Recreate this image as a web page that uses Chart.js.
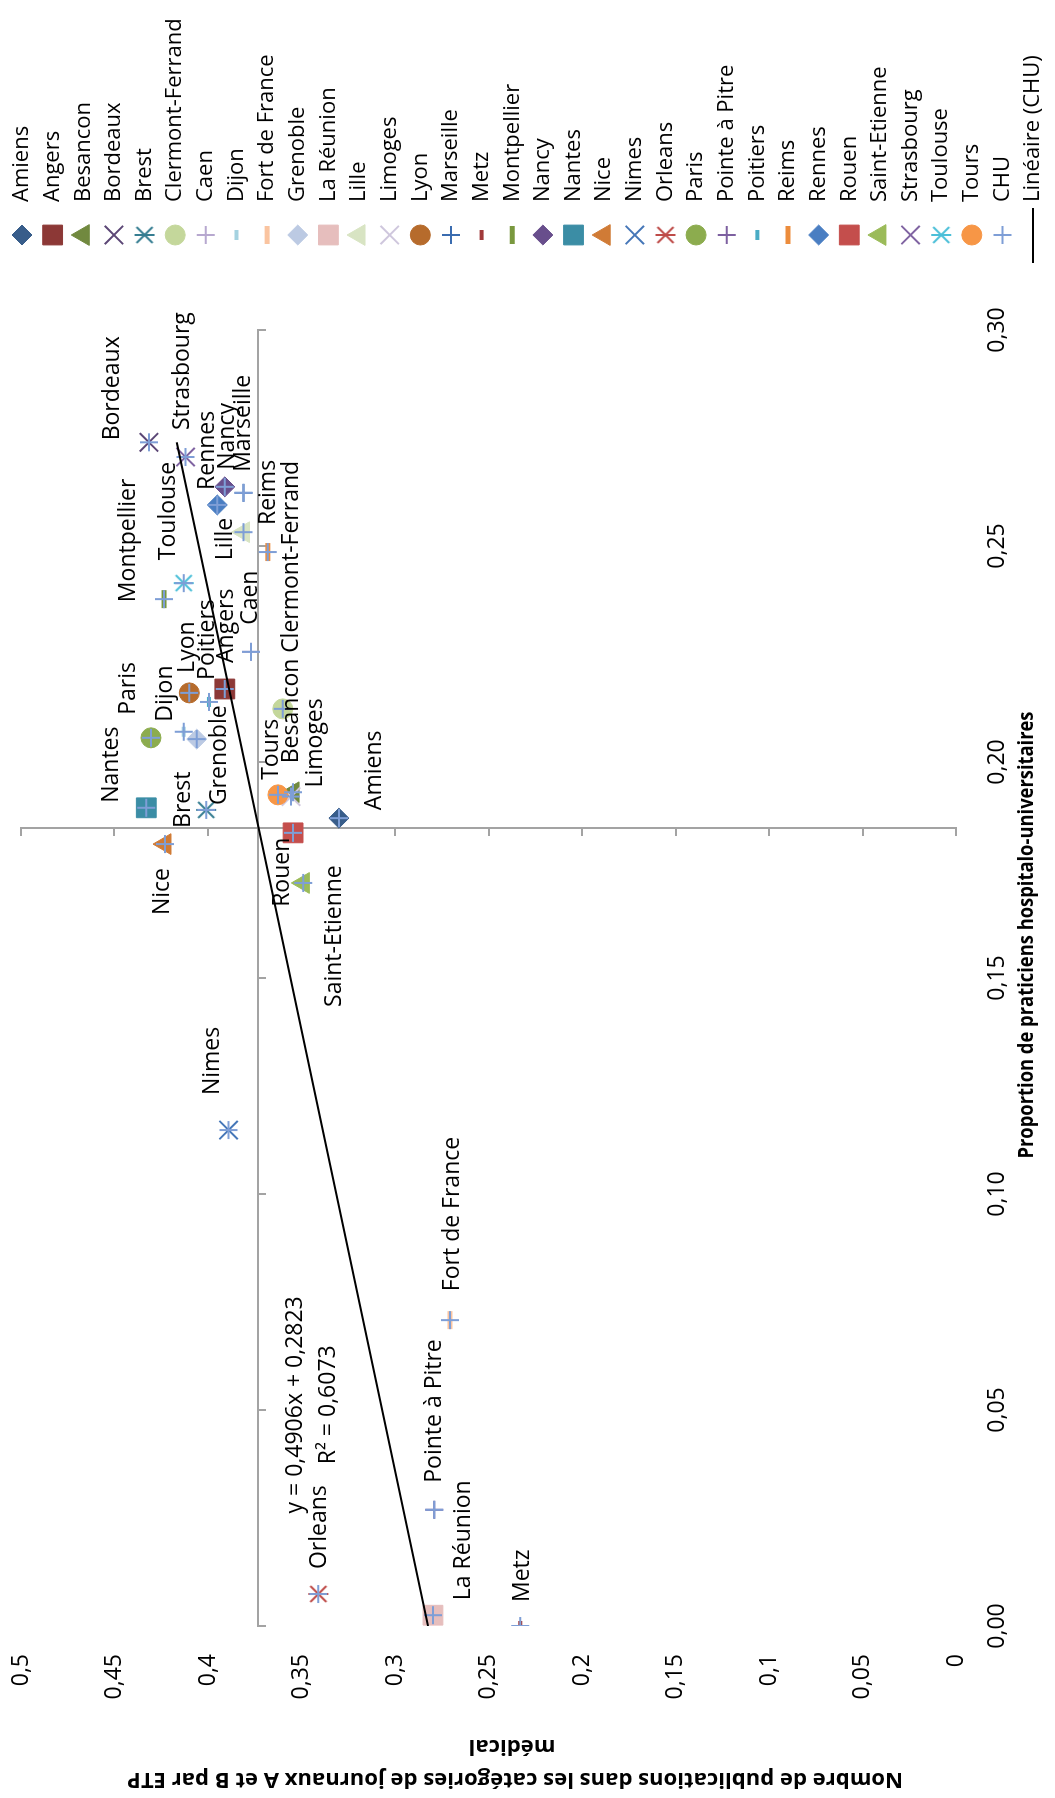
<!DOCTYPE html>
<html>
<head>
<meta charset="utf-8">
<script src="https://cdn.jsdelivr.net/npm/chart.js@4.4.0/dist/chart.umd.min.js"></script>
<style>
    html, body { margin: 0; padding: 0; background: #fff; }
    body { width: 1055px; height: 1798px; overflow: hidden; position: relative; }
    /* the chart is drawn upright and then turned a quarter turn to the left */
    #wrap {
        position: absolute; left: 0; top: 0;
        width: 1798px; height: 1055px;
        transform-origin: 0 0;
        transform: translate(0, 1798px) rotate(-90deg);
    }
</style>
</head>
<body>
<div id="wrap"><canvas id="chart" width="1798" height="1055"></canvas></div>
<script>
// --- data ---
const cities = ['Amiens', 'Angers', 'Besancon', 'Bordeaux', 'Brest', 'Clermont-Ferrand', 'Caen', 'Dijon',
    'Fort de France', 'Grenoble', 'La Réunion', 'Lille', 'Limoges', 'Lyon', 'Marseille', 'Metz', 'Montpellier',
    'Nancy', 'Nantes', 'Nice', 'Nimes', 'Orleans', 'Paris', 'Pointe à Pitre', 'Poitiers', 'Reims', 'Rennes',
    'Rouen', 'Saint-Etienne', 'Strasbourg', 'Toulouse', 'Tours'];
const xValues = [0.187, 0.2169, 0.193, 0.274, 0.1889, 0.2123, 0.2255, 0.207,
    0.0708, 0.2053, 0.0025, 0.2532, 0.192, 0.216, 0.2623, 0.0, 0.2377,
    0.2637, 0.1894, 0.181, 0.1148, 0.0074, 0.2056, 0.0269, 0.2139, 0.2486, 0.2595,
    0.1836, 0.172, 0.2706, 0.2414, 0.1924];
const yValues = [0.330, 0.391, 0.3545, 0.4316, 0.401, 0.360, 0.377, 0.413,
    0.2706, 0.406, 0.2797, 0.381, 0.3556, 0.410, 0.381, 0.233, 0.4235,
    0.391, 0.433, 0.423, 0.389, 0.341, 0.4305, 0.279, 0.3995, 0.368, 0.395,
    0.3545, 0.349, 0.412, 0.413, 0.3626];
const trendX = [0.0, 0.274];
const trendY = [0.2823, 0.4167];
const trendEquation = 'y = 0,4906x + 0,2823';
const trendR2 = 'R² = 0,6073';
const xTickLabels = ['0,00', '0,05', '0,10', '0,15', '0,20', '0,25', '0,30'];
const yTickLabels = ['0', '0,05', '0,1', '0,15', '0,2', '0,25', '0,3', '0,35', '0,4', '0,45', '0,5'];
const xCross = 0.1847;   // where the vertical axis crosses
const yCross = 0.3735;   // where the horizontal axis crosses

const xTitle = 'Proportion de praticiens hospitalo-universitaires';
const yTitle = ['Nombre de publications dans les catégories de journaux A et B par ETP', 'médical'];

// --- marker styles, one per city (shape, colour) ---
const markerStyles = [
    ['diamond', '#385d8a'], ['square', '#8c3836'], ['triangle', '#71893f'], ['x', '#5c4776'],
    ['star', '#357d91'], ['circle', '#c4d79b'], ['plus', '#b7a8cf'], ['dash', '#a5d2e0'],
    ['bar', '#fac4a0'], ['diamond', '#bccae3'], ['square', '#e6bebd'], ['triangle', '#d8e4c3'],
    ['x', '#cfc7dd'], ['circle', '#b66b2c'], ['plus', '#3a6cb0'], ['dash', '#a0393a'],
    ['bar', '#79983e'], ['diamond', '#684e8c'], ['square', '#3b8da5'], ['triangle', '#d07b36'],
    ['x', '#4677b8'], ['star', '#be4b48'], ['circle', '#8cac4e'], ['plus', '#7d60a0'],
    ['dash', '#4aacc5'], ['bar', '#ec8c3c'], ['diamond', '#4a7ec2'], ['square', '#c44e4c'],
    ['triangle', '#9bbb59'], ['x', '#8064a2'], ['star', '#4bbfd8'], ['circle', '#f79646']
];

// label offsets from the point, in pixels (text left, text middle)
const labelOffsets = {
    'Amiens': [8, 36], 'Angers': [26, 2], 'Besancon': [29, -2], 'Bordeaux': [2, -36],
    'Brest': [-18, -23], 'Clermont-Ferrand': [56, 9], 'Caen': [27, -1], 'Dijon': [10, -18],
    'Fort de France': [29, 2], 'Grenoble': [-66, 23], 'La Réunion': [15, 30], 'Lille': [-28, -18],
    'Limoges': [9, 24], 'Lyon': [20, -2], 'Marseille': [21, 0], 'Metz': [24, 2],
    'Montpellier': [-3, -36], 'Nancy': [17, 3], 'Nantes': [5, -35], 'Nice': [-71, -3],
    'Nimes': [35, -16], 'Orleans': [25, 1], 'Paris': [23, -23], 'Pointe à Pitre': [27, 0],
    'Poitiers': [22, -1], 'Reims': [27, 1], 'Rennes': [15, -10], 'Rouen': [-74, -11],
    'Saint-Etienne': [-124, 31], 'Strasbourg': [27, -3], 'Toulouse': [23, -15], 'Tours': [15, -6]
};

const FONT = '"Open Sans", "DejaVu Sans", sans-serif';
const axisGrey = '#a3a3a3';

function asteriskMarker(color) {
    const c = document.createElement('canvas');
    c.width = 24; c.height = 24;
    const g = c.getContext('2d');
    g.strokeStyle = color;
    g.lineWidth = 2;
    g.beginPath();
    g.moveTo(4, 4); g.lineTo(20, 20);
    g.moveTo(20, 4); g.lineTo(4, 20);
    g.moveTo(12, 2); g.lineTo(12, 22);
    g.stroke();
    return c;
}

function markerOptions(shape, color) {
    const filled = { pointBackgroundColor: color, pointBorderColor: color, pointBorderWidth: 1 };
    switch (shape) {
        case 'diamond': return { pointStyle: 'rectRot', pointRadius: 10, ...filled };
        case 'square': return { pointStyle: 'rect', pointRadius: 14, ...filled };
        case 'triangle': return { pointStyle: 'triangle', pointRadius: 12, ...filled };
        case 'circle': return { pointStyle: 'circle', pointRadius: 10, ...filled };
        case 'x': return { pointStyle: 'crossRot', pointRadius: 13, pointBackgroundColor: color, pointBorderColor: color, pointBorderWidth: 2 };
        case 'plus': return { pointStyle: 'cross', pointRadius: 9, pointBackgroundColor: color, pointBorderColor: color, pointBorderWidth: 2 };
        case 'star': return { pointStyle: asteriskMarker(color), pointRadius: 12, pointBackgroundColor: color, pointBorderColor: color, pointBorderWidth: 0 };
        case 'dash': return { pointStyle: 'line', pointRadius: 5, pointBackgroundColor: color, pointBorderColor: color, pointBorderWidth: 4 };
        case 'bar': return { pointStyle: 'line', pointRadius: 9, pointBackgroundColor: color, pointBorderColor: color, pointBorderWidth: 5 };
    }
}

const datasets = cities.map((name, i) => ({
    label: name,
    data: [{ x: xValues[i], y: yValues[i] }],
    order: 100 - i,
    ...markerOptions(markerStyles[i][0], markerStyles[i][1])
}));

datasets.push({
    label: 'CHU',
    data: cities.map((name, i) => ({ x: xValues[i], y: yValues[i] })),
    order: 100 - cities.length,
    ...markerOptions('plus', '#7e9ed6')
});

datasets.push({
    label: 'Linéaire (CHU)',
    data: trendX.map((x, i) => ({ x: x, y: trendY[i] })),
    showLine: true,
    borderColor: '#000',
    borderWidth: 2,
    pointRadius: 0,
    order: 0
});
datasets.forEach(ds => { ds.xAxisID = 'x'; ds.yAxisID = 'y'; });

function fillTextFit(ctx, text, x, y, width) {
    const w = ctx.measureText(text).width;
    ctx.save();
    ctx.translate(x, y);
    ctx.scale(width / w, 1);
    ctx.fillText(text, 0, 0);
    ctx.restore();
}

const labelPlugin = {
    id: 'cityLabels',
    afterDatasetsDraw(chart) {
        const ctx = chart.ctx;
        ctx.save();
        ctx.font = '23px ' + FONT;
        ctx.fillStyle = '#000';
        ctx.textAlign = 'left';
        ctx.textBaseline = 'middle';
        cities.forEach((name, i) => {
            const pt = chart.getDatasetMeta(i).data[0];
            const off = labelOffsets[name];
            ctx.fillText(name, pt.x + off[0], pt.y + off[1]);
        });

        // trend line equation
        const xs = chart.scales.x, ys = chart.scales.y;
        ctx.textAlign = 'center';
        const ex = xs.getPixelForValue(0.0512);
        ctx.fillText(trendEquation, ex, ys.getPixelForValue(0.3535));
        ctx.fillText(trendR2, ex, ys.getPixelForValue(0.3358));
        ctx.restore();
    }
};

const titlePlugin = {
    id: 'axisTitles',
    afterDraw(chart) {
        const ctx = chart.ctx;
        ctx.save();
        ctx.fillStyle = '#000';
        ctx.textAlign = 'center';
        ctx.textBaseline = 'middle';
        ctx.font = 'bold 22px ' + FONT;
        fillTextFit(ctx, xTitle, 863, 1027, 447);

        ctx.rotate(-Math.PI / 2);
        // after rotating, x runs upward along the left edge
        const ratio = 776 / ctx.measureText(yTitle[0]).width;
        fillTextFit(ctx, yTitle[0], -515, 19, 776);
        fillTextFit(ctx, yTitle[1], -512, 52, ctx.measureText(yTitle[1]).width * ratio);
        ctx.restore();
    }
};

const legendPlugin = {
    id: 'sideLegend',
    afterDraw(chart) {
        const ctx = chart.ctx;
        const drawPoint = Chart.helpers && Chart.helpers.drawPoint;
        ctx.save();
        ctx.font = '22px ' + FONT;
        ctx.textAlign = 'left';
        ctx.textBaseline = 'middle';
        chart.data.datasets.forEach((ds, i) => {
            const y = 22 + i * 30.64;
            if (ds.showLine) {
                ctx.strokeStyle = ds.borderColor;
                ctx.lineWidth = ds.borderWidth;
                ctx.beginPath();
                ctx.moveTo(1535, y);
                ctx.lineTo(1590, y);
                ctx.stroke();
            } else if (drawPoint) {
                ctx.fillStyle = ds.pointBackgroundColor;
                ctx.strokeStyle = ds.pointBorderColor;
                ctx.lineWidth = ds.pointBorderWidth;
                drawPoint(ctx, {
                    pointStyle: ds.pointStyle,
                    radius: ds.pointRadius,
                    borderWidth: ds.pointBorderWidth,
                    rotation: 0
                }, 1563, y);
            }
            ctx.fillStyle = '#000';
            ctx.fillText(ds.label, 1596, y);
        });
        ctx.restore();
    }
};

// invisible tick marks keep the labels away from the plot without padding the plot itself
const hiddenTicks = { display: true, drawOnChartArea: false, drawTicks: true, tickLength: 28, color: 'rgba(0,0,0,0)' };

window.addEventListener('DOMContentLoaded', () => {
    const ctx = document.getElementById('chart');
    new Chart(ctx, {
        type: 'scatter',
        data: { datasets: datasets },
        plugins: [labelPlugin, titlePlugin, legendPlugin],
        options: {
            responsive: false,
            animation: false,
            devicePixelRatio: 1,
            events: [],
            layout: { padding: { top: 21, right: 330, bottom: 0, left: 0 } },
            plugins: {
                legend: { display: false },
                tooltip: { enabled: false }
            },
            scales: {
                x: {
                    type: 'linear',
                    position: 'bottom',
                    min: 0,
                    max: 0.30,
                    afterFit: s => { s.height = 99; },
                    grid: hiddenTicks,
                    border: { display: false },
                    ticks: {
                        stepSize: 0.05,
                        padding: 0,
                        color: '#000',
                        font: { family: FONT, size: 23 },
                        callback: (v, i) => xTickLabels[i]
                    }
                },
                y: {
                    type: 'linear',
                    position: 'left',
                    min: 0,
                    max: 0.5,
                    afterFit: s => { s.width = 172; },
                    grid: hiddenTicks,
                    border: { display: false },
                    ticks: {
                        stepSize: 0.05,
                        padding: 0,
                        color: '#000',
                        font: { family: FONT, size: 23 },
                        callback: (v, i) => yTickLabels[i]
                    }
                },
                x2: {
                    type: 'linear',
                    axis: 'x',
                    position: { y: yCross },
                    min: 0,
                    max: 0.30,
                    ticks: { display: false, stepSize: 0.05 },
                    grid: { drawOnChartArea: false, drawTicks: true, tickLength: 7, color: axisGrey, lineWidth: 2 },
                    border: { color: axisGrey, width: 2 }
                },
                y2: {
                    type: 'linear',
                    axis: 'y',
                    position: { x: xCross },
                    min: 0,
                    max: 0.5,
                    ticks: { display: false, stepSize: 0.05 },
                    grid: { drawOnChartArea: false, drawTicks: true, tickLength: 7, color: axisGrey, lineWidth: 2 },
                    border: { color: axisGrey, width: 2 }
                }
            }
        }
    });
});
</script>
</body>
</html>
